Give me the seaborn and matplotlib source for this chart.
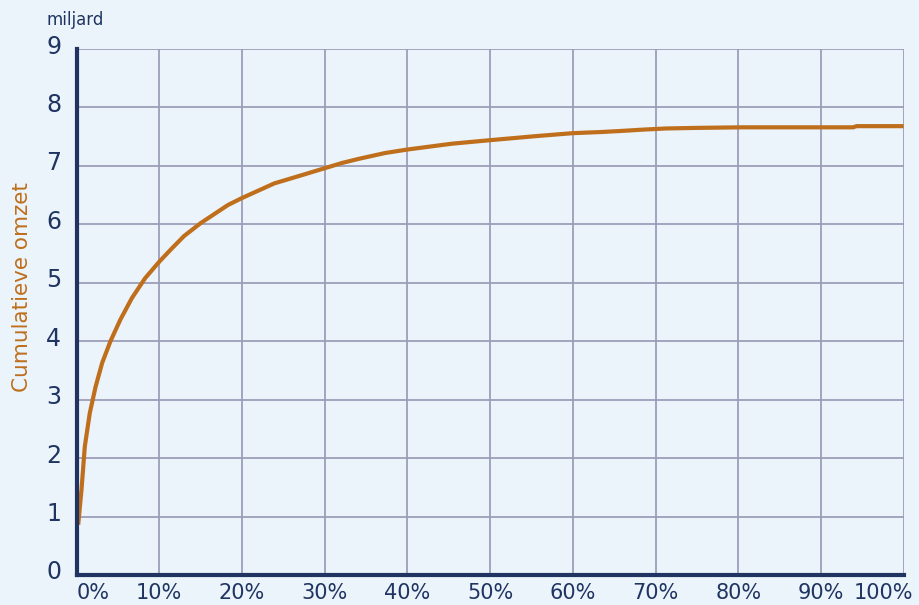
"""
Cumulative revenue curve (miljard) against share of companies.
"""

import matplotlib
matplotlib.use("Agg")
import matplotlib.pyplot as plt
import matplotlib.transforms as mtransforms
import seaborn as sns
import pandas as pd

# Data
share_pct = [0.2, 0.6, 1.0, 1.6, 2.3, 3.1, 4.1, 5.3, 6.7, 8.3, 10.0, 11.4, 13.0,
             15.0, 18.3, 20.0, 23.9, 27.2, 30.0, 32.1, 34.1, 37.3, 40.0, 45.4,
             50.0, 55.6, 60.0, 63.5, 66.1, 68.4, 71.2, 74.9, 80.5, 93.9, 94.3, 100.0]
cum_revenue = [0.86, 1.46, 2.2, 2.77, 3.22, 3.63, 4.0, 4.37, 4.74, 5.08, 5.36, 5.57, 5.8,
               6.02, 6.33, 6.45, 6.7, 6.84, 6.96, 7.05, 7.12, 7.22, 7.28, 7.38,
               7.44, 7.51, 7.56, 7.58, 7.6, 7.62, 7.64, 7.65, 7.66, 7.66, 7.68, 7.68]
x_ticks = [0, 10, 20, 30, 40, 50, 60, 70, 80, 90, 100]
x_labels = [f"{t}%" for t in x_ticks]
y_ticks = list(range(0, 10))

df = pd.DataFrame({"share": share_pct, "revenue": cum_revenue})

# Colours
bg = "#ebf3fb"
navy = "#1f3461"
grid_col = "#9d9db8"
line_col = "#bf6f1c"

sns.set_theme(style="white")
plt.rcParams["font.family"] = ["DejaVu Sans"]

fig = plt.figure(figsize=(9.2, 6.05), dpi=100, facecolor=bg)
ax = fig.add_axes([0.0832, 0.0496, 0.8990, 0.8694], facecolor=bg)

sns.lineplot(data=df, x="share", y="revenue", ax=ax, color=line_col,
             linewidth=3.0, solid_capstyle="butt", zorder=3)

ax.set_xlim(0, 100)
ax.set_ylim(0, 9)
ax.set_xticks(x_ticks)
ax.set_xticklabels(x_labels)
ax.set_yticks(y_ticks)

ax.grid(True, color=grid_col, linewidth=1.3)
ax.set_axisbelow(True)

for side in ["top", "right"]:
    ax.spines[side].set_visible(False)
for side in ["left", "bottom"]:
    ax.spines[side].set_color(navy)
    ax.spines[side].set_linewidth(3.0)
    ax.spines[side].set_zorder(4)

ax.tick_params(axis="both", length=0, colors=navy, labelsize=15)
ax.tick_params(axis="x", pad=6)
ax.tick_params(axis="y", pad=11)

# y labels sit slightly above their gridline
for lab in ax.get_yticklabels():
    lab.set_fontsize(17)
    lab.set_transform(lab.get_transform() + mtransforms.ScaledTranslation(0, 5 / 100, fig.dpi_scale_trans))

# edge x labels pushed inward
xlabs = ax.get_xticklabels()
xlabs[0].set_transform(xlabs[0].get_transform() + mtransforms.ScaledTranslation(17 / 100, 0, fig.dpi_scale_trans))
xlabs[-1].set_transform(xlabs[-1].get_transform() + mtransforms.ScaledTranslation(-20 / 100, 0, fig.dpi_scale_trans))

ax.set_xlabel("")
ax.set_ylabel("")
fig.text(0.024, 0.525, "Cumulatieve omzet", rotation=90, color=line_col,
         fontsize=15.5, ha="center", va="center")
fig.text(0.051, 0.967, "miljard", color=navy, fontsize=12, ha="left", va="center")

fig.savefig("out.png", dpi=100, facecolor=bg)
